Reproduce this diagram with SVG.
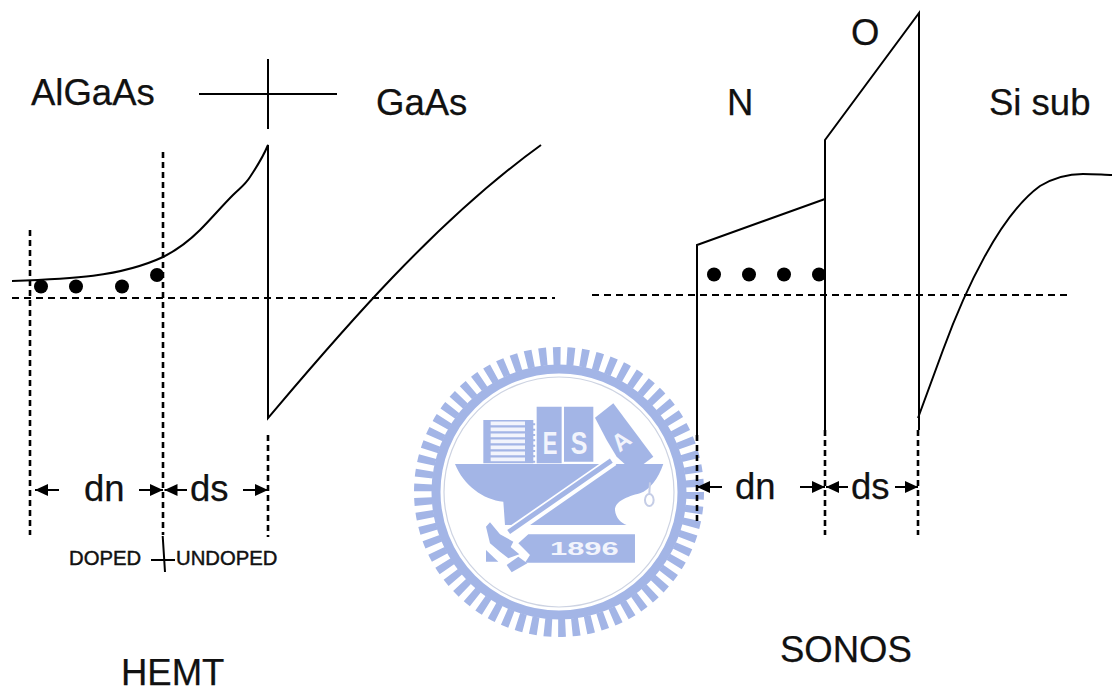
<svg xmlns="http://www.w3.org/2000/svg" width="1112" height="693" viewBox="0 0 1112 693">
<style>
text{font-family:"Liberation Sans",Arial,sans-serif;fill:#111}
.l{font-size:36.5px;stroke:#111;stroke-width:.25}
.s{font-size:20.3px;stroke:#111;stroke-width:.45}
.line{fill:none;stroke:#000;stroke-width:2}
.dash{fill:none;stroke:#000;stroke-width:2;stroke-dasharray:7 5}
.vdash{fill:none;stroke:#000;stroke-width:2.600;stroke-dasharray:6 4}
.ar{fill:none;stroke:#000;stroke-width:2;marker-end:url(#a)}
.dot{fill:#000}
.sb{fill:#a3b5e6}
.st{font-family:"Liberation Sans",Arial,sans-serif;fill:#f2f4fc;stroke:none;font-weight:bold}
</style>
<defs>
<marker id="a" markerUnits="userSpaceOnUse" markerWidth="15" markerHeight="14" refX="13" refY="6" orient="auto"><path d="M0 0L13 6L0 12z" fill="#000"/></marker>
</defs>
<rect width="1112" height="693" fill="#fff"/>
<g id="seal">
<circle cx="559" cy="492" r="136" fill="none" stroke="#a3b5e6" stroke-width="18" stroke-dasharray="7.4 6.4"/>
<circle cx="559" cy="492" r="123" fill="none" stroke="#a3b5e6" stroke-width="9"/>
<circle cx="559" cy="492" r="115" fill="none" stroke="#cdd3e2" stroke-width="1.2"/>
<g transform="translate(450 395) scale(.3333)">
<path class="sb" d="M100 75H250V205H100z"/>
<path d="M122 85H225M122 103H225M122 121H225M122 139H225M122 157H225M122 175H225M122 193H225" stroke="#f2f4fc" stroke-width="11" fill="none"/>
<path d="M252 85V205" stroke="#a3b5e6" stroke-width="7" stroke-dasharray="6 10" fill="none"/>
<path class="sb" d="M260 35H335V205H260z"/>
<path class="sb" d="M342 35H430V200H342z"/>
<path class="sb" d="M435 68L490 25L610 185L550 230L500 185L470 135z"/>
<text class="st" x="278" y="176" font-size="92" textLength="44" lengthAdjust="spacingAndGlyphs">E</text>
<text class="st" x="362" y="176" font-size="92" textLength="50" lengthAdjust="spacingAndGlyphs">S</text>
<text class="st" transform="translate(514 138) rotate(-38)" x="-26" y="24" font-size="72">A</text>
<path class="sb" d="M15 207H640C625 250 600 285 570 295C530 305 495 320 495 345C497 370 515 385 530 390H165L160 320C100 315 40 270 15 207z"/>
<path d="M490 197L172 418" stroke="#fff" stroke-width="32" fill="none"/>
<path d="M484 197L176 411" stroke="#a3b5e6" stroke-width="15" fill="none"/>
<path class="sb" d="M108 395L120 382L150 418L190 440L182 456L208 478L175 490L150 470L120 445z"/>
<path class="sb" d="M108 465L145 500H108z"/>
<path class="sb" d="M170 510L205 485L232 505L185 532z"/>
<path class="sb" d="M205 445L235 418H555V503H225L240 480z"/>
<text class="st" x="300" y="480" font-size="56" textLength="206" lengthAdjust="spacingAndGlyphs">1896</text>
<ellipse cx="598" cy="315" rx="13" ry="18" fill="none" stroke="#c5cde6" stroke-width="6"/>
<path d="M600 262L598 296" stroke="#c5cde6" stroke-width="6" fill="none"/>
</g>
</g>
<g id="connectors">
<path class="line" d="M12 281C70 279 120 277 163 257C177 250 189 241 200 230C211 219 222 206 233 195C240 188 245 185 250 177C256 168 263 157 268 145V418C330 345 430 225 541 145"/>
<path class="line" d="M199 94H337M268 59V129"/>
<path class="dash" d="M12 298H555"/>
<path class="vdash" d="M30 230V535M163 152V535M268 435V537"/>
<path class="line" d="M151 560H175M162.700 536L165 572"/>
<path class="ar" d="M59 490H35"/><path class="ar" d="M139 490H163"/><path class="ar" d="M187 490H164.500"/><path class="ar" d="M243 490H268"/>
<path class="line" d="M697 435V245L825 199M825 430V140L919 13V430"/>
<path class="line" d="M918 418L943 350C965 290 1000 215 1040 186C1055 177 1070 174 1083 174C1095 174 1105 175 1112 175"/>
<path class="dash" d="M592 295H1068"/>
<path class="vdash" d="M697 435V525M825 430V535M918 430V535"/>
<path class="ar" d="M722 487H697"/><path class="ar" d="M800 487H825"/><path class="ar" d="M848 487H826"/><path class="ar" d="M895 487H918"/>
</g>
<g id="hemt-dots"><circle class="dot" cx="41" cy="286.500" r="7"/><circle class="dot" cx="76" cy="286.500" r="7"/><circle class="dot" cx="122" cy="286.500" r="7"/><circle class="dot" cx="157" cy="275" r="7"/></g>
<g id="sonos-dots"><circle class="dot" cx="714" cy="274.500" r="7"/><circle class="dot" cx="749" cy="274.500" r="7"/><circle class="dot" cx="784" cy="274.500" r="7"/><circle class="dot" cx="819" cy="274.500" r="7"/></g>
<g id="labels">
<text class="l" x="31" y="105">AlGaAs</text>
<text class="l" x="376" y="115">GaAs</text>
<text class="l" x="727" y="115">N</text>
<text class="l" x="851" y="45">O</text>
<text class="l" x="989" y="115">Si sub</text>
<text class="l" x="84" y="501">dn</text>
<text class="l" x="190" y="501">ds</text>
<text class="l" x="735" y="499">dn</text>
<text class="l" x="851" y="499">ds</text>
<text class="s" x="69" y="565">DOPED</text>
<text class="s" x="176" y="565">UNDOPED</text>
<text class="l" x="121" y="685">HEMT</text>
<text class="l" x="780" y="662">SONOS</text>
</g>
</svg>
